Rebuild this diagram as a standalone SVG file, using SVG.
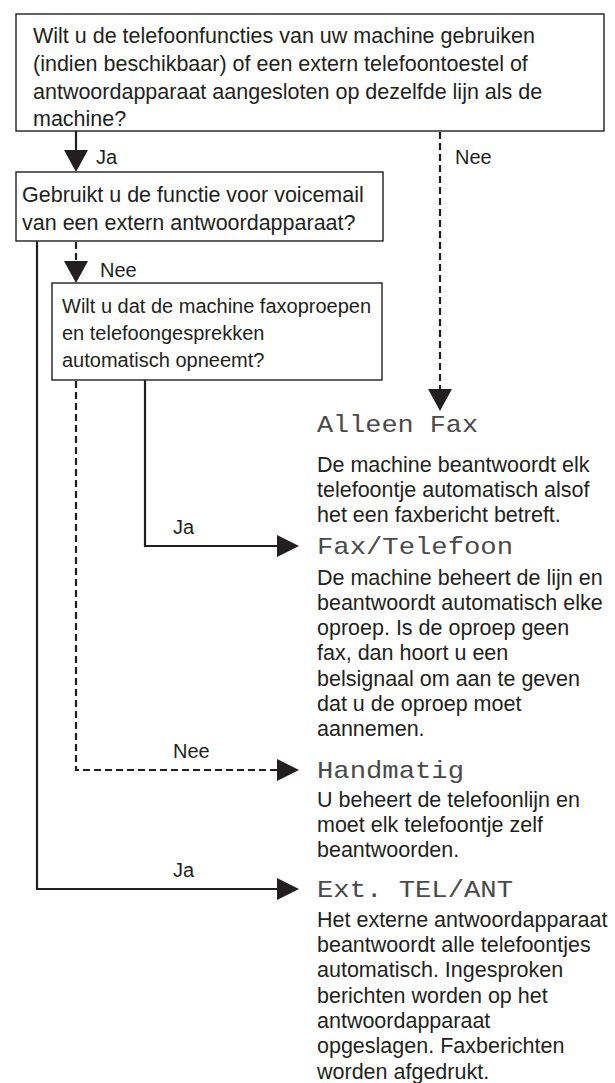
<svg xmlns="http://www.w3.org/2000/svg" width="615" height="1083" viewBox="0 0 615 1083">
<style>
.box{fill:#fff;stroke:#231f20;stroke-width:1.4}
.t{font-family:"Liberation Sans",Arial,sans-serif;font-size:21.5px;fill:#231f20}
.tb{font-family:"Liberation Sans",Arial,sans-serif;font-size:20px;fill:#231f20}
.lbl{font-family:"Liberation Sans",Arial,sans-serif;font-size:20px;fill:#231f20}
.lcd{font-family:"Liberation Mono","DejaVu Sans Mono",monospace;font-size:24px;fill:#4a4a4a}
.ln{fill:none;stroke:#231f20;stroke-width:2.2}
.dl{fill:none;stroke:#231f20;stroke-width:2.2;stroke-dasharray:7 4}
.ah{fill:#231f20}
</style>
<rect width="615" height="1083" fill="#fff"/>
<g id="q1">
<rect class="box" x="16" y="14" width="588" height="117"/>
<text class="t" x="33" y="43">Wilt u de telefoonfuncties van uw machine gebruiken</text>
<text class="t" x="33" y="71">(indien beschikbaar) of een extern telefoontoestel of</text>
<text class="t" x="33" y="99">antwoordapparaat aangesloten op dezelfde lijn als de</text>
<text class="t" x="33" y="126">machine?</text>
</g>
<g id="q2">
<rect class="box" x="16" y="172" width="367" height="69"/>
<text class="t" x="22" y="202">Gebruikt u de functie voor voicemail</text>
<text class="t" x="22" y="230">van een extern antwoordapparaat?</text>
</g>
<g id="q3">
<rect class="box" x="52" y="283" width="330" height="97"/>
<text class="tb" x="62" y="313">Wilt u dat de machine faxoproepen</text>
<text class="tb" x="62" y="340">en telefoongesprekken</text>
<text class="tb" x="62" y="367">automatisch opneemt?</text>
</g>
<g id="r1">
<text class="lcd" x="317" y="432" textLength="161" lengthAdjust="spacingAndGlyphs">Alleen Fax</text>
<text class="t" x="317" y="472">De machine beantwoordt elk</text>
<text class="t" x="317" y="497">telefoontje automatisch alsof</text>
<text class="t" x="317" y="522">het een faxbericht betreft.</text>
</g>
<g id="r2">
<text class="lcd" x="317" y="554" textLength="196" lengthAdjust="spacingAndGlyphs">Fax/Telefoon</text>
<text class="t" x="317" y="585">De machine beheert de lijn en</text>
<text class="t" x="317" y="610">beantwoordt automatisch elke</text>
<text class="t" x="317" y="635">oproep. Is de oproep geen</text>
<text class="t" x="317" y="660">fax, dan hoort u een</text>
<text class="t" x="317" y="686">belsignaal om aan te geven</text>
<text class="t" x="317" y="711">dat u de oproep moet</text>
<text class="t" x="317" y="736">aannemen.</text>
</g>
<g id="r3">
<text class="lcd" x="317" y="778" textLength="147" lengthAdjust="spacingAndGlyphs">Handmatig</text>
<text class="t" x="317" y="807">U beheert de telefoonlijn en</text>
<text class="t" x="317" y="832">moet elk telefoontje zelf</text>
<text class="t" x="317" y="857">beantwoorden.</text>
</g>
<g id="r4">
<text class="lcd" x="317" y="897" textLength="196" lengthAdjust="spacingAndGlyphs">Ext. TEL/ANT</text>
<text class="t" x="317" y="927">Het externe antwoordapparaat</text>
<text class="t" x="317" y="952">beantwoordt alle telefoontjes</text>
<text class="t" x="317" y="977">automatisch. Ingesproken</text>
<text class="t" x="317" y="1003">berichten worden op het</text>
<text class="t" x="317" y="1028">antwoordapparaat</text>
<text class="t" x="317" y="1053">opgeslagen. Faxberichten</text>
<text class="t" x="317" y="1079">worden afgedrukt.</text>
</g>
<g id="connectors">
<path class="ln" d="M76 131V151"/>
<polygon class="ah" points="64,150 88,150 76,172"/>
<text class="lbl" x="96" y="164">Ja</text>
<path class="dl" d="M440 132V390"/>
<polygon class="ah" points="428,389 452,389 440,411"/>
<text class="lbl" x="455" y="164">Nee</text>
<path class="dl" d="M76 242V262"/>
<polygon class="ah" points="64,261 88,261 76,283"/>
<text class="lbl" x="100" y="277">Nee</text>
<path class="ln" d="M145 380V546H279"/>
<polygon class="ah" points="277,535 277,557 299,546"/>
<text class="lbl" x="173" y="534">Ja</text>
<path class="dl" d="M76 381V770H279"/>
<polygon class="ah" points="277,759 277,781 299,770"/>
<text class="lbl" x="173" y="758">Nee</text>
<path class="ln" d="M37 241V889H279"/>
<polygon class="ah" points="277,878 277,900 299,889"/>
<text class="lbl" x="173" y="877">Ja</text>
</g>
</svg>
